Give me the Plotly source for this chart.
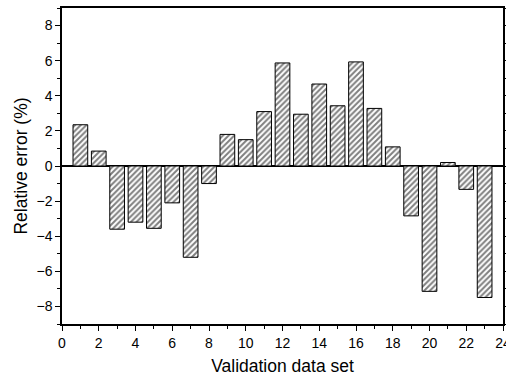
import plotly.graph_objects as go

datasets = list(range(1, 24))
rel_error = [2.35, 0.85, -3.6, -3.2, -3.55, -2.1, -5.2, -1.0, 1.8, 1.5, 3.1, 5.87,
             2.95, 4.67, 3.43, 5.93, 3.28, 1.09, -2.84, -7.14, 0.2, -1.33, -7.49]
x_ticks = list(range(0, 25, 2))
y_ticks = list(range(-8, 9, 2))

fig = go.Figure(go.Bar(
    x=datasets, y=rel_error, width=0.8,
    marker=dict(color="white", line=dict(color="black", width=1),
                pattern=dict(shape="/", fgcolor="black", bgcolor="white", size=4, solidity=0.5)),
))

font = "Liberation Sans, Arial, sans-serif"
fig.update_layout(
    width=506, height=381,
    margin=dict(l=62, r=3, t=8, b=57),
    plot_bgcolor="white", paper_bgcolor="white",
    showlegend=False,
    font=dict(family=font, color="black", size=13),
    xaxis=dict(range=[0, 24], tickvals=x_ticks, ticks="outside", ticklen=5, tickwidth=1,
               tickcolor="black", showline=True, linecolor="black", linewidth=1.5, mirror=True,
               showgrid=False, zeroline=False, automargin=False, ticklabeloverflow="allow",
               minor=dict(dtick=1, ticks="outside", ticklen=3, tickcolor="black", showgrid=False),
               title=dict(text="Validation data set", font=dict(size=17.5), standoff=10),
               tickfont=dict(size=14)),
    yaxis=dict(range=[-9, 9], tickvals=y_ticks, ticks="outside", ticklen=5, tickwidth=1,
               tickcolor="black", showline=True, linecolor="black", linewidth=1.5, mirror="ticks",
               showgrid=False, zeroline=True, zerolinecolor="black", zerolinewidth=1.5,
               automargin=False,
               minor=dict(dtick=1, tick0=1, ticks="outside", ticklen=3, tickcolor="black", showgrid=False),
               title=dict(text="Relative error (%)", font=dict(size=17.5), standoff=4),
               tickfont=dict(size=14)),
)

fig.write_html("out.html")
